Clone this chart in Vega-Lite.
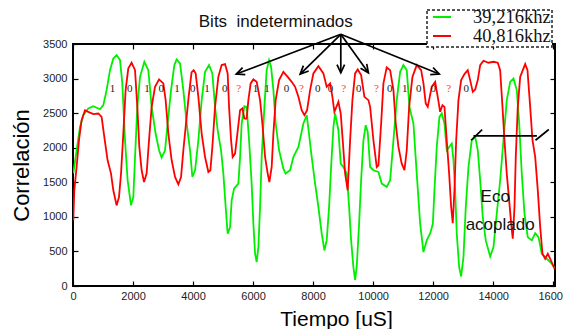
{
  "$schema": "https://vega.github.io/schema/vega-lite/v6.json",
  "autosize": {"type": "none"},
  "width": 482,
  "height": 242,
  "padding": {"left": 73, "top": 44, "right": 8, "bottom": 43},
  "background": "white",
  "config": {
    "view": {"stroke": "black", "strokeWidth": 2},
    "axis": {"domain": false, "grid": false, "tickSize": -5, "tickColor": "black", "tickWidth": 1.2, "labelFont": "Liberation Sans", "labelFontSize": 11, "labelColor": "#222", "labelFlush": false, "labelOverlap": false, "titleFont": "Liberation Sans", "titleFontWeight": "normal", "titleColor": "black"},
    "legend": {"strokeDash": [3, 2], "strokeWidth": 1.5, "strokeColor": "#222", "fillColor": "white"}
  },
  "datasets": {
    "curves": [
      {"t":10,"c":1630,"s":"39,216khz"},{"t":120,"c":1963,"s":"39,216khz"},{"t":233,"c":2300,"s":"39,216khz"},{"t":343,"c":2470,"s":"39,216khz"},{"t":510,"c":2568,"s":"39,216khz"},{"t":677,"c":2600,"s":"39,216khz"},{"t":900,"c":2557,"s":"39,216khz"},{"t":1010,"c":2615,"s":"39,216khz"},{"t":1120,"c":2833,"s":"39,216khz"},{"t":1233,"c":3122,"s":"39,216khz"},{"t":1343,"c":3290,"s":"39,216khz"},{"t":1453,"c":3340,"s":"39,216khz"},{"t":1567,"c":3267,"s":"39,216khz"},{"t":1643,"c":2930,"s":"39,216khz"},{"t":1733,"c":2108,"s":"39,216khz"},{"t":1820,"c":1529,"s":"39,216khz"},{"t":1933,"c":1166,"s":"39,216khz"},{"t":2010,"c":1287,"s":"39,216khz"},{"t":2067,"c":1866,"s":"39,216khz"},{"t":2143,"c":2591,"s":"39,216khz"},{"t":2233,"c":3025,"s":"39,216khz"},{"t":2377,"c":3243,"s":"39,216khz"},{"t":2510,"c":3122,"s":"39,216khz"},{"t":2620,"c":2591,"s":"39,216khz"},{"t":2753,"c":2205,"s":"39,216khz"},{"t":2867,"c":1963,"s":"39,216khz"},{"t":2953,"c":1857,"s":"39,216khz"},{"t":3067,"c":1963,"s":"39,216khz"},{"t":3153,"c":2350,"s":"39,216khz"},{"t":3267,"c":2833,"s":"39,216khz"},{"t":3377,"c":3195,"s":"39,216khz"},{"t":3453,"c":3277,"s":"39,216khz"},{"t":3567,"c":3220,"s":"39,216khz"},{"t":3677,"c":2833,"s":"39,216khz"},{"t":3787,"c":2350,"s":"39,216khz"},{"t":3900,"c":1963,"s":"39,216khz"},{"t":3977,"c":1577,"s":"39,216khz"},{"t":4067,"c":1674,"s":"39,216khz"},{"t":4177,"c":2108,"s":"39,216khz"},{"t":4287,"c":2688,"s":"39,216khz"},{"t":4400,"c":3098,"s":"39,216khz"},{"t":4533,"c":3195,"s":"39,216khz"},{"t":4643,"c":3075,"s":"39,216khz"},{"t":4733,"c":2591,"s":"39,216khz"},{"t":4820,"c":2253,"s":"39,216khz"},{"t":4933,"c":1963,"s":"39,216khz"},{"t":5010,"c":1626,"s":"39,216khz"},{"t":5087,"c":1142,"s":"39,216khz"},{"t":5153,"c":756,"s":"39,216khz"},{"t":5233,"c":852,"s":"39,216khz"},{"t":5287,"c":1239,"s":"39,216khz"},{"t":5367,"c":1408,"s":"39,216khz"},{"t":5510,"c":1481,"s":"39,216khz"},{"t":5567,"c":1866,"s":"39,216khz"},{"t":5620,"c":2350,"s":"39,216khz"},{"t":5710,"c":2600,"s":"39,216khz"},{"t":5787,"c":2591,"s":"39,216khz"},{"t":5867,"c":2108,"s":"39,216khz"},{"t":5953,"c":1481,"s":"39,216khz"},{"t":6010,"c":901,"s":"39,216khz"},{"t":6067,"c":467,"s":"39,216khz"},{"t":6120,"c":345,"s":"39,216khz"},{"t":6177,"c":562,"s":"39,216khz"},{"t":6233,"c":1142,"s":"39,216khz"},{"t":6287,"c":1866,"s":"39,216khz"},{"t":6377,"c":2591,"s":"39,216khz"},{"t":6453,"c":3122,"s":"39,216khz"},{"t":6533,"c":3267,"s":"39,216khz"},{"t":6600,"c":3170,"s":"39,216khz"},{"t":6677,"c":2833,"s":"39,216khz"},{"t":6753,"c":2350,"s":"39,216khz"},{"t":6867,"c":1963,"s":"39,216khz"},{"t":7010,"c":1698,"s":"39,216khz"},{"t":7087,"c":1626,"s":"39,216khz"},{"t":7233,"c":1674,"s":"39,216khz"},{"t":7343,"c":1866,"s":"39,216khz"},{"t":7510,"c":2011,"s":"39,216khz"},{"t":7677,"c":2350,"s":"39,216khz"},{"t":7787,"c":2470,"s":"39,216khz"},{"t":7843,"c":2278,"s":"39,216khz"},{"t":7953,"c":1866,"s":"39,216khz"},{"t":8067,"c":1481,"s":"39,216khz"},{"t":8177,"c":1142,"s":"39,216khz"},{"t":8287,"c":756,"s":"39,216khz"},{"t":8377,"c":514,"s":"39,216khz"},{"t":8453,"c":659,"s":"39,216khz"},{"t":8533,"c":1142,"s":"39,216khz"},{"t":8600,"c":1721,"s":"39,216khz"},{"t":8677,"c":2300,"s":"39,216khz"},{"t":8733,"c":2495,"s":"39,216khz"},{"t":8843,"c":2253,"s":"39,216khz"},{"t":8920,"c":1770,"s":"39,216khz"},{"t":9010,"c":1721,"s":"39,216khz"},{"t":9120,"c":1626,"s":"39,216khz"},{"t":9200,"c":1142,"s":"39,216khz"},{"t":9267,"c":659,"s":"39,216khz"},{"t":9343,"c":272,"s":"39,216khz"},{"t":9400,"c":90,"s":"39,216khz"},{"t":9453,"c":272,"s":"39,216khz"},{"t":9533,"c":901,"s":"39,216khz"},{"t":9600,"c":1529,"s":"39,216khz"},{"t":9677,"c":2108,"s":"39,216khz"},{"t":9753,"c":2326,"s":"39,216khz"},{"t":9820,"c":2229,"s":"39,216khz"},{"t":9900,"c":1721,"s":"39,216khz"},{"t":10010,"c":1674,"s":"39,216khz"},{"t":10177,"c":1649,"s":"39,216khz"},{"t":10287,"c":1481,"s":"39,216khz"},{"t":10453,"c":1432,"s":"39,216khz"},{"t":10567,"c":1529,"s":"39,216khz"},{"t":10677,"c":2108,"s":"39,216khz"},{"t":10787,"c":2688,"s":"39,216khz"},{"t":10900,"c":3098,"s":"39,216khz"},{"t":11010,"c":3195,"s":"39,216khz"},{"t":11120,"c":3122,"s":"39,216khz"},{"t":11210,"c":2591,"s":"39,216khz"},{"t":11343,"c":2350,"s":"39,216khz"},{"t":11453,"c":1626,"s":"39,216khz"},{"t":11567,"c":901,"s":"39,216khz"},{"t":11677,"c":490,"s":"39,216khz"},{"t":11787,"c":659,"s":"39,216khz"},{"t":11900,"c":760,"s":"39,216khz"},{"t":11990,"c":900,"s":"39,216khz"},{"t":12043,"c":1384,"s":"39,216khz"},{"t":12120,"c":2011,"s":"39,216khz"},{"t":12210,"c":2446,"s":"39,216khz"},{"t":12287,"c":2495,"s":"39,216khz"},{"t":12377,"c":2350,"s":"39,216khz"},{"t":12453,"c":1963,"s":"39,216khz"},{"t":12533,"c":2011,"s":"39,216khz"},{"t":12620,"c":2060,"s":"39,216khz"},{"t":12677,"c":1818,"s":"39,216khz"},{"t":12733,"c":1384,"s":"39,216khz"},{"t":12787,"c":756,"s":"39,216khz"},{"t":12867,"c":272,"s":"39,216khz"},{"t":12933,"c":138,"s":"39,216khz"},{"t":13010,"c":417,"s":"39,216khz"},{"t":13087,"c":1142,"s":"39,216khz"},{"t":13177,"c":1721,"s":"39,216khz"},{"t":13287,"c":2108,"s":"39,216khz"},{"t":13400,"c":2156,"s":"39,216khz"},{"t":13487,"c":1963,"s":"39,216khz"},{"t":13567,"c":1529,"s":"39,216khz"},{"t":13653,"c":997,"s":"39,216khz"},{"t":13753,"c":659,"s":"39,216khz"},{"t":13900,"c":427,"s":"39,216khz"},{"t":14010,"c":562,"s":"39,216khz"},{"t":14120,"c":1046,"s":"39,216khz"},{"t":14233,"c":1529,"s":"39,216khz"},{"t":14343,"c":2108,"s":"39,216khz"},{"t":14453,"c":2688,"s":"39,216khz"},{"t":14567,"c":2953,"s":"39,216khz"},{"t":14677,"c":3002,"s":"39,216khz"},{"t":14787,"c":2833,"s":"39,216khz"},{"t":14867,"c":2350,"s":"39,216khz"},{"t":14953,"c":1626,"s":"39,216khz"},{"t":15043,"c":1046,"s":"39,216khz"},{"t":15153,"c":707,"s":"39,216khz"},{"t":15287,"c":659,"s":"39,216khz"},{"t":15400,"c":765,"s":"39,216khz"},{"t":15510,"c":707,"s":"39,216khz"},{"t":15620,"c":467,"s":"39,216khz"},{"t":15787,"c":394,"s":"39,216khz"},{"t":15953,"c":322,"s":"39,216khz"},{"t":16050,"c":260,"s":"39,216khz"},
      {"t":10,"c":949,"s":"40,816khz"},{"t":43,"c":1384,"s":"40,816khz"},{"t":120,"c":1721,"s":"40,816khz"},{"t":200,"c":2108,"s":"40,816khz"},{"t":287,"c":2398,"s":"40,816khz"},{"t":400,"c":2543,"s":"40,816khz"},{"t":510,"c":2519,"s":"40,816khz"},{"t":677,"c":2485,"s":"40,816khz"},{"t":843,"c":2495,"s":"40,816khz"},{"t":953,"c":2446,"s":"40,816khz"},{"t":1043,"c":2156,"s":"40,816khz"},{"t":1153,"c":1818,"s":"40,816khz"},{"t":1267,"c":1626,"s":"40,816khz"},{"t":1343,"c":1384,"s":"40,816khz"},{"t":1453,"c":1166,"s":"40,816khz"},{"t":1533,"c":1287,"s":"40,816khz"},{"t":1600,"c":1626,"s":"40,816khz"},{"t":1677,"c":2205,"s":"40,816khz"},{"t":1753,"c":2833,"s":"40,816khz"},{"t":1843,"c":3147,"s":"40,816khz"},{"t":1953,"c":3229,"s":"40,816khz"},{"t":2067,"c":3122,"s":"40,816khz"},{"t":2143,"c":2591,"s":"40,816khz"},{"t":2210,"c":2011,"s":"40,816khz"},{"t":2287,"c":1674,"s":"40,816khz"},{"t":2367,"c":1504,"s":"40,816khz"},{"t":2453,"c":1626,"s":"40,816khz"},{"t":2533,"c":2108,"s":"40,816khz"},{"t":2620,"c":2591,"s":"40,816khz"},{"t":2733,"c":2881,"s":"40,816khz"},{"t":2867,"c":2988,"s":"40,816khz"},{"t":3010,"c":2930,"s":"40,816khz"},{"t":3087,"c":2688,"s":"40,816khz"},{"t":3177,"c":2205,"s":"40,816khz"},{"t":3287,"c":1818,"s":"40,816khz"},{"t":3400,"c":1577,"s":"40,816khz"},{"t":3510,"c":1471,"s":"40,816khz"},{"t":3600,"c":1577,"s":"40,816khz"},{"t":3677,"c":1963,"s":"40,816khz"},{"t":3787,"c":2446,"s":"40,816khz"},{"t":3853,"c":2736,"s":"40,816khz"},{"t":3950,"c":3090,"s":"40,816khz"},{"t":4020,"c":3122,"s":"40,816khz"},{"t":4087,"c":3075,"s":"40,816khz"},{"t":4177,"c":2736,"s":"40,816khz"},{"t":4287,"c":2205,"s":"40,816khz"},{"t":4400,"c":1866,"s":"40,816khz"},{"t":4510,"c":1649,"s":"40,816khz"},{"t":4577,"c":1674,"s":"40,816khz"},{"t":4643,"c":2011,"s":"40,816khz"},{"t":4733,"c":2591,"s":"40,816khz"},{"t":4843,"c":3025,"s":"40,816khz"},{"t":4953,"c":3195,"s":"40,816khz"},{"t":5067,"c":3210,"s":"40,816khz"},{"t":5153,"c":3075,"s":"40,816khz"},{"t":5200,"c":2591,"s":"40,816khz"},{"t":5267,"c":2108,"s":"40,816khz"},{"t":5320,"c":1866,"s":"40,816khz"},{"t":5400,"c":1915,"s":"40,816khz"},{"t":5477,"c":2205,"s":"40,816khz"},{"t":5567,"c":2543,"s":"40,816khz"},{"t":5643,"c":2568,"s":"40,816khz"},{"t":5710,"c":2422,"s":"40,816khz"},{"t":5787,"c":2422,"s":"40,816khz"},{"t":5843,"c":2688,"s":"40,816khz"},{"t":5920,"c":2930,"s":"40,816khz"},{"t":6010,"c":2988,"s":"40,816khz"},{"t":6120,"c":2953,"s":"40,816khz"},{"t":6233,"c":2688,"s":"40,816khz"},{"t":6310,"c":2350,"s":"40,816khz"},{"t":6400,"c":1866,"s":"40,816khz"},{"t":6487,"c":1626,"s":"40,816khz"},{"t":6543,"c":1504,"s":"40,816khz"},{"t":6620,"c":1721,"s":"40,816khz"},{"t":6677,"c":2205,"s":"40,816khz"},{"t":6753,"c":2688,"s":"40,816khz"},{"t":6867,"c":2978,"s":"40,816khz"},{"t":7010,"c":3098,"s":"40,816khz"},{"t":7153,"c":3025,"s":"40,816khz"},{"t":7287,"c":2953,"s":"40,816khz"},{"t":7400,"c":2881,"s":"40,816khz"},{"t":7510,"c":2736,"s":"40,816khz"},{"t":7620,"c":2543,"s":"40,816khz"},{"t":7710,"c":2470,"s":"40,816khz"},{"t":7800,"c":2543,"s":"40,816khz"},{"t":7900,"c":2833,"s":"40,816khz"},{"t":8010,"c":3075,"s":"40,816khz"},{"t":8177,"c":3180,"s":"40,816khz"},{"t":8343,"c":3075,"s":"40,816khz"},{"t":8453,"c":2881,"s":"40,816khz"},{"t":8567,"c":2930,"s":"40,816khz"},{"t":8643,"c":2736,"s":"40,816khz"},{"t":8710,"c":2519,"s":"40,816khz"},{"t":8843,"c":2664,"s":"40,816khz"},{"t":8920,"c":2495,"s":"40,816khz"},{"t":8987,"c":2108,"s":"40,816khz"},{"t":9067,"c":1626,"s":"40,816khz"},{"t":9153,"c":1384,"s":"40,816khz"},{"t":9233,"c":2108,"s":"40,816khz"},{"t":9310,"c":2688,"s":"40,816khz"},{"t":9400,"c":3075,"s":"40,816khz"},{"t":9487,"c":3132,"s":"40,816khz"},{"t":9600,"c":3050,"s":"40,816khz"},{"t":9710,"c":2736,"s":"40,816khz"},{"t":9843,"c":2688,"s":"40,816khz"},{"t":9900,"c":2591,"s":"40,816khz"},{"t":10010,"c":2108,"s":"40,816khz"},{"t":10120,"c":1721,"s":"40,816khz"},{"t":10177,"c":1746,"s":"40,816khz"},{"t":10267,"c":2350,"s":"40,816khz"},{"t":10343,"c":2930,"s":"40,816khz"},{"t":10453,"c":3161,"s":"40,816khz"},{"t":10567,"c":3122,"s":"40,816khz"},{"t":10677,"c":2833,"s":"40,816khz"},{"t":10753,"c":2350,"s":"40,816khz"},{"t":10843,"c":2011,"s":"40,816khz"},{"t":10953,"c":1770,"s":"40,816khz"},{"t":11043,"c":1674,"s":"40,816khz"},{"t":11120,"c":1963,"s":"40,816khz"},{"t":11200,"c":2591,"s":"40,816khz"},{"t":11310,"c":3025,"s":"40,816khz"},{"t":11453,"c":3195,"s":"40,816khz"},{"t":11600,"c":3122,"s":"40,816khz"},{"t":11677,"c":2930,"s":"40,816khz"},{"t":11753,"c":2640,"s":"40,816khz"},{"t":11820,"c":2591,"s":"40,816khz"},{"t":11953,"c":2881,"s":"40,816khz"},{"t":12067,"c":2953,"s":"40,816khz"},{"t":12153,"c":2736,"s":"40,816khz"},{"t":12233,"c":2519,"s":"40,816khz"},{"t":12310,"c":2615,"s":"40,816khz"},{"t":12377,"c":2591,"s":"40,816khz"},{"t":12453,"c":2108,"s":"40,816khz"},{"t":12533,"c":1626,"s":"40,816khz"},{"t":12600,"c":1142,"s":"40,816khz"},{"t":12653,"c":910,"s":"40,816khz"},{"t":12710,"c":1384,"s":"40,816khz"},{"t":12767,"c":2108,"s":"40,816khz"},{"t":12843,"c":2688,"s":"40,816khz"},{"t":12933,"c":2978,"s":"40,816khz"},{"t":13043,"c":3065,"s":"40,816khz"},{"t":13153,"c":3122,"s":"40,816khz"},{"t":13233,"c":2978,"s":"40,816khz"},{"t":13320,"c":2808,"s":"40,816khz"},{"t":13400,"c":2842,"s":"40,816khz"},{"t":13487,"c":2978,"s":"40,816khz"},{"t":13567,"c":3195,"s":"40,816khz"},{"t":13677,"c":3258,"s":"40,816khz"},{"t":13843,"c":3229,"s":"40,816khz"},{"t":14010,"c":3243,"s":"40,816khz"},{"t":14153,"c":3229,"s":"40,816khz"},{"t":14233,"c":3122,"s":"40,816khz"},{"t":14310,"c":2591,"s":"40,816khz"},{"t":14377,"c":2108,"s":"40,816khz"},{"t":14453,"c":1626,"s":"40,816khz"},{"t":14533,"c":1239,"s":"40,816khz"},{"t":14600,"c":901,"s":"40,816khz"},{"t":14653,"c":684,"s":"40,816khz"},{"t":14710,"c":1142,"s":"40,816khz"},{"t":14753,"c":1866,"s":"40,816khz"},{"t":14820,"c":2591,"s":"40,816khz"},{"t":14900,"c":3025,"s":"40,816khz"},{"t":14987,"c":3122,"s":"40,816khz"},{"t":15067,"c":3210,"s":"40,816khz"},{"t":15143,"c":3122,"s":"40,816khz"},{"t":15233,"c":2591,"s":"40,816khz"},{"t":15310,"c":2108,"s":"40,816khz"},{"t":15400,"c":1866,"s":"40,816khz"},{"t":15487,"c":1384,"s":"40,816khz"},{"t":15567,"c":852,"s":"40,816khz"},{"t":15643,"c":467,"s":"40,816khz"},{"t":15733,"c":394,"s":"40,816khz"},{"t":15820,"c":467,"s":"40,816khz"},{"t":15900,"c":394,"s":"40,816khz"},{"t":16010,"c":283,"s":"40,816khz"},{"t":16050,"c":250,"s":"40,816khz"}
    ],
    "bits": [
      {"t":1320,"c":2850,"b":"1"},{"t":1887,"c":2850,"b":"0"},{"t":2467,"c":2850,"b":"1"},{"t":2943,"c":2850,"b":"0"},{"t":3467,"c":2850,"b":"1"},{"t":3987,"c":2850,"b":"0"},{"t":4467,"c":2850,"b":"1"},{"t":5053,"c":2850,"b":"0"},{"t":5520,"c":2850,"b":"?"},{"t":6077,"c":2850,"b":"1"},{"t":6467,"c":2850,"b":"1"},{"t":7110,"c":2850,"b":"0"},{"t":7610,"c":2850,"b":"?"},{"t":8153,"c":2850,"b":"0"},{"t":8577,"c":2850,"b":"0"},{"t":9020,"c":2850,"b":"?"},{"t":9520,"c":2850,"b":"0"},{"t":10110,"c":2850,"b":"?"},{"t":10553,"c":2850,"b":"0"},{"t":11053,"c":2850,"b":"1"},{"t":11520,"c":2850,"b":"0"},{"t":12000,"c":2850,"b":"0"},{"t":12520,"c":2850,"b":"?"},{"t":13100,"c":2850,"b":"0"}
    ],
    "segments": [
      {"t":8923,"c":3640,"t2":5440,"c2":3065},
      {"t":8923,"c":3640,"t2":7570,"c2":3065},
      {"t":8923,"c":3640,"t2":8923,"c2":3084},
      {"t":8923,"c":3640,"t2":9843,"c2":3084},
      {"t":8923,"c":3640,"t2":12203,"c2":3065},
      {"t":13343,"c":2171,"t2":15457,"c2":2171},
      {"t":13266,"c":2108,"t2":13633,"c2":2263},
      {"t":15410,"c":2108,"t2":15853,"c2":2263}
    ],
    "heads": [
      {"t":5440,"c":3065,"a":-110.8},
      {"t":7570,"c":3065,"a":-134.4},
      {"t":8923,"c":3084,"a":180},
      {"t":9843,"c":3084,"a":144.3},
      {"t":12203,"c":3065,"a":112}
    ],
    "notes": [
      {"t":6757,"c":3814,"n":"Bits\u00a0 indeterminados"},
      {"t":14067,"c":1287,"n":"Eco"},
      {"t":14233,"c":877,"n":"acoplado"}
    ]
  },
  "layer": [
    {
      "data": {"name": "curves"},
      "mark": {"type": "line", "strokeWidth": 1.8, "clip": true},
      "encoding": {
        "x": {"field": "t", "type": "quantitative", "scale": {"domain": [0, 16060], "nice": false, "zero": false},
              "axis": {"orient": "bottom", "values": [0,2000,4000,6000,8000,10000,12000,14000,16000], "format": "d", "labelPadding": 9, "title": "Tiempo [uS]", "titleFontSize": 21, "titleX": 263, "titleY": 33, "titleAlign": "center", "titleBaseline": "middle"}},
        "y": {"field": "c", "type": "quantitative", "scale": {"domain": [0, 3500], "nice": false, "zero": true},
              "axis": {"orient": "left", "values": [0,500,1000,1500,2000,2500,3000,3500], "format": "d", "labelPadding": 11, "title": "Correlación", "titleFontSize": 22, "titleX": -52, "titleY": 121, "titleAngle": -90, "titleAlign": "center", "titleBaseline": "middle"}},
        "color": {"field": "s", "type": "nominal", "scale": {"domain": ["39,216khz", "40,816khz"], "range": ["#00ee00", "#ff0000"]},
                  "legend": {"orient": "none", "legendX": 354, "legendY": -34, "title": null, "symbolType": "stroke", "symbolSize": 324, "symbolStrokeWidth": 1.8, "symbolOffset": 4, "labelFont": "Liberation Serif", "labelFontSize": 18.5, "labelColor": "#111", "labelOffset": 21, "rowPadding": 0, "clipHeight": 12, "padding": 1}}
      }
    },
    {
      "data": {"name": "bits"},
      "mark": {"type": "text", "font": "Liberation Serif", "fontSize": 11, "align": "center", "baseline": "middle"},
      "encoding": {
        "x": {"field": "t", "type": "quantitative", "scale": {"domain": [0, 16060], "nice": false, "zero": false},
              "axis": {"orient": "top", "values": [0,2000,4000,6000,8000,10000,12000,14000,16000], "labels": false, "title": null}},
        "y": {"field": "c", "type": "quantitative", "scale": {"domain": [0, 3500], "nice": false},
              "axis": {"orient": "right", "values": [0,500,1000,1500,2000,2500,3000,3500], "labels": false, "title": null}},
        "text": {"field": "b"},
        "color": {"condition": {"test": "datum.b === '?'", "value": "#ff4040"}, "value": "#222"}
      }
    },
    {
      "data": {"name": "segments"},
      "mark": {"type": "rule", "color": "black", "strokeWidth": 1.7},
      "encoding": {
        "x": {"field": "t", "type": "quantitative", "axis": null},
        "y": {"field": "c", "type": "quantitative", "axis": null},
        "x2": {"field": "t2"},
        "y2": {"field": "c2"}
      }
    },
    {
      "data": {"name": "heads"},
      "mark": {"type": "point", "shape": "M -0.95 2.05 L 0 0 L 0.95 2.05", "filled": false, "stroke": "black", "strokeWidth": 1.7, "size": 64, "opacity": 1},
      "encoding": {
        "x": {"field": "t", "type": "quantitative", "axis": null},
        "y": {"field": "c", "type": "quantitative", "axis": null},
        "angle": {"field": "a", "type": "quantitative", "scale": null}
      }
    },
    {
      "data": {"name": "notes"},
      "mark": {"type": "text", "font": "Liberation Sans", "fontSize": 17, "align": "center", "baseline": "middle", "color": "#111"},
      "encoding": {
        "x": {"field": "t", "type": "quantitative", "axis": null},
        "y": {"field": "c", "type": "quantitative", "axis": null},
        "text": {"field": "n"}
      }
    }
  ],
  "resolve": {"axis": {"x": "independent", "y": "independent"}}
}
